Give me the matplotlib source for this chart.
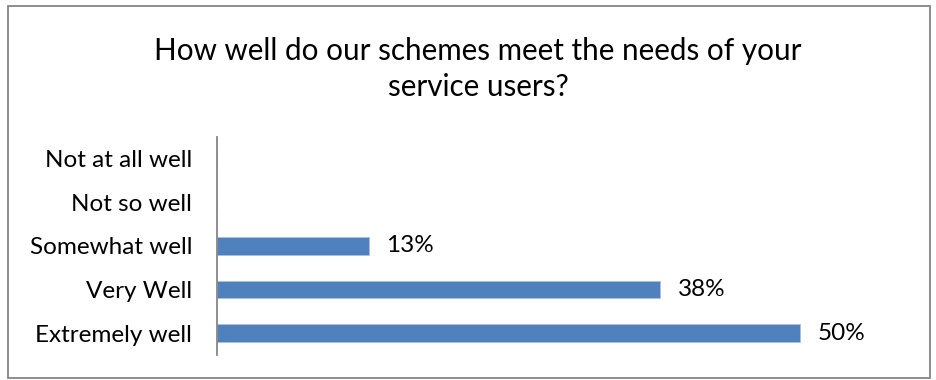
import matplotlib.pyplot as plt
from matplotlib.patches import Rectangle

categories = ["Extremely well", "Very Well", "Somewhat well", "Not so well", "Not at all well"]
percent = [50, 38, 13, 0, 0]

title = "How well do our schemes meet the needs of your\nservice users?"
bar_color = "#4F81BD"
font = ["Lato", "DejaVu Sans"]

fig = plt.figure(figsize=(9.36, 3.80), dpi=100)
fig.patch.set_facecolor("white")

# outer chart border
fig.patches.append(Rectangle((8 / 936, 1 - 378 / 380), 922 / 936, 372 / 380,
                             transform=fig.transFigure, fill=False,
                             ec="#868686", lw=1.3))

ax = fig.add_axes([217 / 936, 1 - 355 / 380, 700 / 936, 218 / 380])
ypos = range(len(categories))
ax.barh(ypos, percent, height=0.4, color=bar_color, ec="#A9C0DE", lw=0.6)
ax.set_xlim(0, 60)
ax.set_ylim(-0.5, len(categories) - 0.5)

for y, v in zip(ypos, percent):
    if v > 0:
        ax.text(v + 1.5, y, f"{v}%", va="center", ha="left",
                fontsize=17.5, family=font, color="black")

ax.set_yticks(list(ypos))
ax.set_yticklabels(categories, fontsize=17.5, family=font)
ax.tick_params(axis="y", length=0, pad=18)
ax.set_xticks([])
for side in ["top", "right", "bottom"]:
    ax.spines[side].set_visible(False)
ax.spines["left"].set_color("#868686")
ax.spines["left"].set_linewidth(1.3)

fig.text(478 / 936, 1 - 69 / 380, title, ha="center", va="center",
         fontsize=21.3, family=font, linespacing=1.38)

fig.savefig("out.png", dpi=100, facecolor="white")
